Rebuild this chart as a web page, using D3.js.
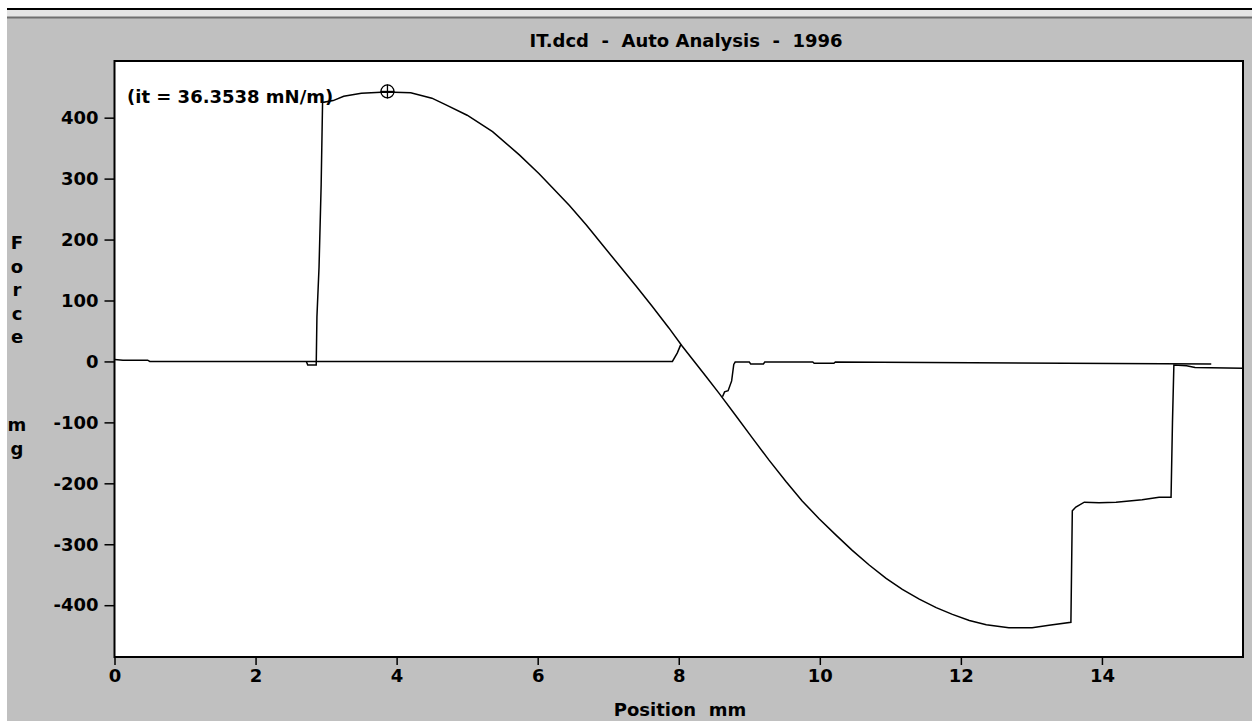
<!DOCTYPE html>
<html>
<head>
<meta charset="utf-8" />
<title>IT.dcd - Auto Analysis - 1996</title>
<style>
body { margin: 0; background: #fff; }
text { font-family: "DejaVu Sans", sans-serif; font-weight: bold; fill: #000; }
.axis text { font-size: 18px; }
.axis line { stroke: #000; stroke-width: 1.5px; }
.axis path { display: none; }
.trace { fill: none; stroke: #000; stroke-width: 1.5px; stroke-linejoin: miter; }
</style>
</head>
<body>
<script src="https://d3js.org/d3.v7.min.js"></script>
<script>
// chart texts
var title = "IT.dcd  -  Auto Analysis  -  1996";
var xTitle = "Position  mm";
var yTitleTop = ["F", "o", "r", "c", "e"];
var yTitleBottom = ["m", "g"];
var note = "(it = 36.3538 mN/m)";

var xTicks = [0, 2, 4, 6, 8, 10, 12, 14];
var yTicks = [-400, -300, -200, -100, 0, 100, 200, 300, 400];

// baseline while moving in, until it meets the curve
var advancePos   = [0, 0.12, 0.47, 0.5, 7.91, 7.98, 8.03];
var advanceForce = [3, 2, 2, 0, 0, 14, 28];

// main pull curve
var pullPos = [2.72, 2.74, 2.86, 2.87, 2.9, 2.93, 2.95, 3.1, 3.25, 3.5, 3.85, 4.2, 4.5, 4.7, 5.0,
  5.36, 5.74, 6.02, 6.21, 6.45, 6.69, 6.92, 7.16, 7.40, 7.62, 7.86, 8.05, 8.22, 8.39, 8.57,
  8.81, 9.04, 9.28, 9.52, 9.75, 9.99, 10.23, 10.46, 10.70, 10.94, 11.17, 11.41, 11.65, 11.88,
  12.12, 12.36, 12.68, 13.01, 13.25, 13.56, 13.58, 13.63, 13.75, 13.96, 14.2, 14.57, 14.81,
  14.98, 15.0, 15.02, 15.2, 15.32, 16];
var pullForce = [0, -6, -6, 73, 155, 290, 425, 428, 435, 440, 442, 441, 432, 421, 404,
  377, 339, 308, 285, 256, 224, 191, 157, 123, 91, 55, 25, 0, -25, -52,
  -89, -125, -162, -197, -229, -258, -285, -310, -334, -356, -374, -390, -404, -415,
  -425, -432, -437, -437, -433, -428, -245, -239, -231, -232, -231, -227, -223,
  -223, -100, -6, -7, -10, -11];

// branch that leaves the curve and returns to zero
var returnPos   = [8.62, 8.65, 8.7, 8.75, 8.78, 8.8, 9.0, 9.02, 9.2, 9.22, 9.9, 9.92, 10.2, 10.22, 15.55];
var returnForce = [-58, -50, -48, -32, -5, -1, -1, -4, -4, -1, -1, -3, -3, -1, -4];

// marker at the maximum
var peakPos = 3.87, peakForce = 443;

var W = 1252, H = 721;
var plot = {left: 114.5, top: 61, right: 1243, bottom: 657};

var svg = d3.select("body").append("svg")
  .attr("width", W)
  .attr("height", H);

// window frame
svg.append("rect").attr("x", 0).attr("y", 0).attr("width", W).attr("height", H).attr("fill", "#fff");
svg.append("rect").attr("x", 7).attr("y", 8).attr("width", W - 7).attr("height", H - 8).attr("fill", "#c0c0c0");
svg.append("rect").attr("x", 7).attr("y", 8).attr("width", W - 7).attr("height", 2).attr("fill", "#000");
svg.append("rect").attr("x", 7).attr("y", 10).attr("width", W - 7).attr("height", 7).attr("fill", "#e4e4e4");
svg.append("rect").attr("x", 7).attr("y", 16.5).attr("width", W - 7).attr("height", 2).attr("fill", "#6e6e6e");

var x = d3.scaleLinear().domain([0, 16]).range([plot.left, plot.right]);
var y = d3.scaleLinear().domain([-485, 493]).range([plot.bottom, plot.top]);

svg.append("rect")
  .attr("x", plot.left).attr("y", plot.top)
  .attr("width", plot.right - plot.left).attr("height", plot.bottom - plot.top)
  .attr("fill", "#fff").attr("stroke", "#000").attr("stroke-width", 2);

// title
svg.append("text")
  .attr("x", 686).attr("y", 47)
  .attr("text-anchor", "middle")
  .style("font-size", "18px")
  .style("white-space", "pre")
  .text(title);

// axes
svg.append("g").attr("class", "axis")
  .attr("transform", "translate(" + plot.left + ",0)")
  .call(d3.axisLeft(y).tickValues(yTicks).tickSize(10).tickPadding(6).tickFormat(function(d){ return String(d); }));

svg.append("g").attr("class", "axis")
  .attr("transform", "translate(0," + plot.bottom + ")")
  .call(d3.axisBottom(x).tickValues(xTicks).tickSize(8).tickPadding(4).tickFormat(function(d){ return String(d); }));

svg.append("text")
  .attr("x", 680).attr("y", 716)
  .attr("text-anchor", "middle")
  .style("font-size", "18px")
  .style("white-space", "pre")
  .text(xTitle);

// vertical y title, one letter per line
svg.selectAll(".ytop").data(yTitleTop).enter().append("text")
  .attr("class", "ytop")
  .attr("x", 17).attr("y", function(d, i){ return 249 + i * 23.5; })
  .attr("text-anchor", "middle")
  .style("font-size", "18px")
  .text(function(d){ return d; });

svg.selectAll(".ybot").data(yTitleBottom).enter().append("text")
  .attr("class", "ybot")
  .attr("x", 17).attr("y", function(d, i){ return 431 + i * 23.5; })
  .attr("text-anchor", "middle")
  .style("font-size", "18px")
  .text(function(d){ return d; });

// traces
var line = d3.line()
  .x(function(d){ return x(d[0]); })
  .y(function(d){ return y(d[1]); });

var traces = [
  d3.zip(advancePos, advanceForce),
  d3.zip(pullPos, pullForce),
  d3.zip(returnPos, returnForce)
];

svg.append("g").selectAll("path")
  .data(traces).enter().append("path")
  .attr("class", "trace")
  .attr("d", line);

// note and peak marker
svg.append("text")
  .attr("x", 127).attr("y", 103)
  .style("font-size", "18px")
  .style("white-space", "pre")
  .text(note);

var mk = svg.append("g").attr("transform", "translate(" + x(peakPos) + "," + y(peakForce) + ")");
mk.append("circle").attr("r", 6.5).attr("fill", "none").attr("stroke", "#000").attr("stroke-width", 1.3);
mk.append("line").attr("x1", -7).attr("x2", 7).attr("stroke", "#000").attr("stroke-width", 1.3);
mk.append("line").attr("y1", -7).attr("y2", 7).attr("stroke", "#000").attr("stroke-width", 1.3);
</script>
</body>
</html>
